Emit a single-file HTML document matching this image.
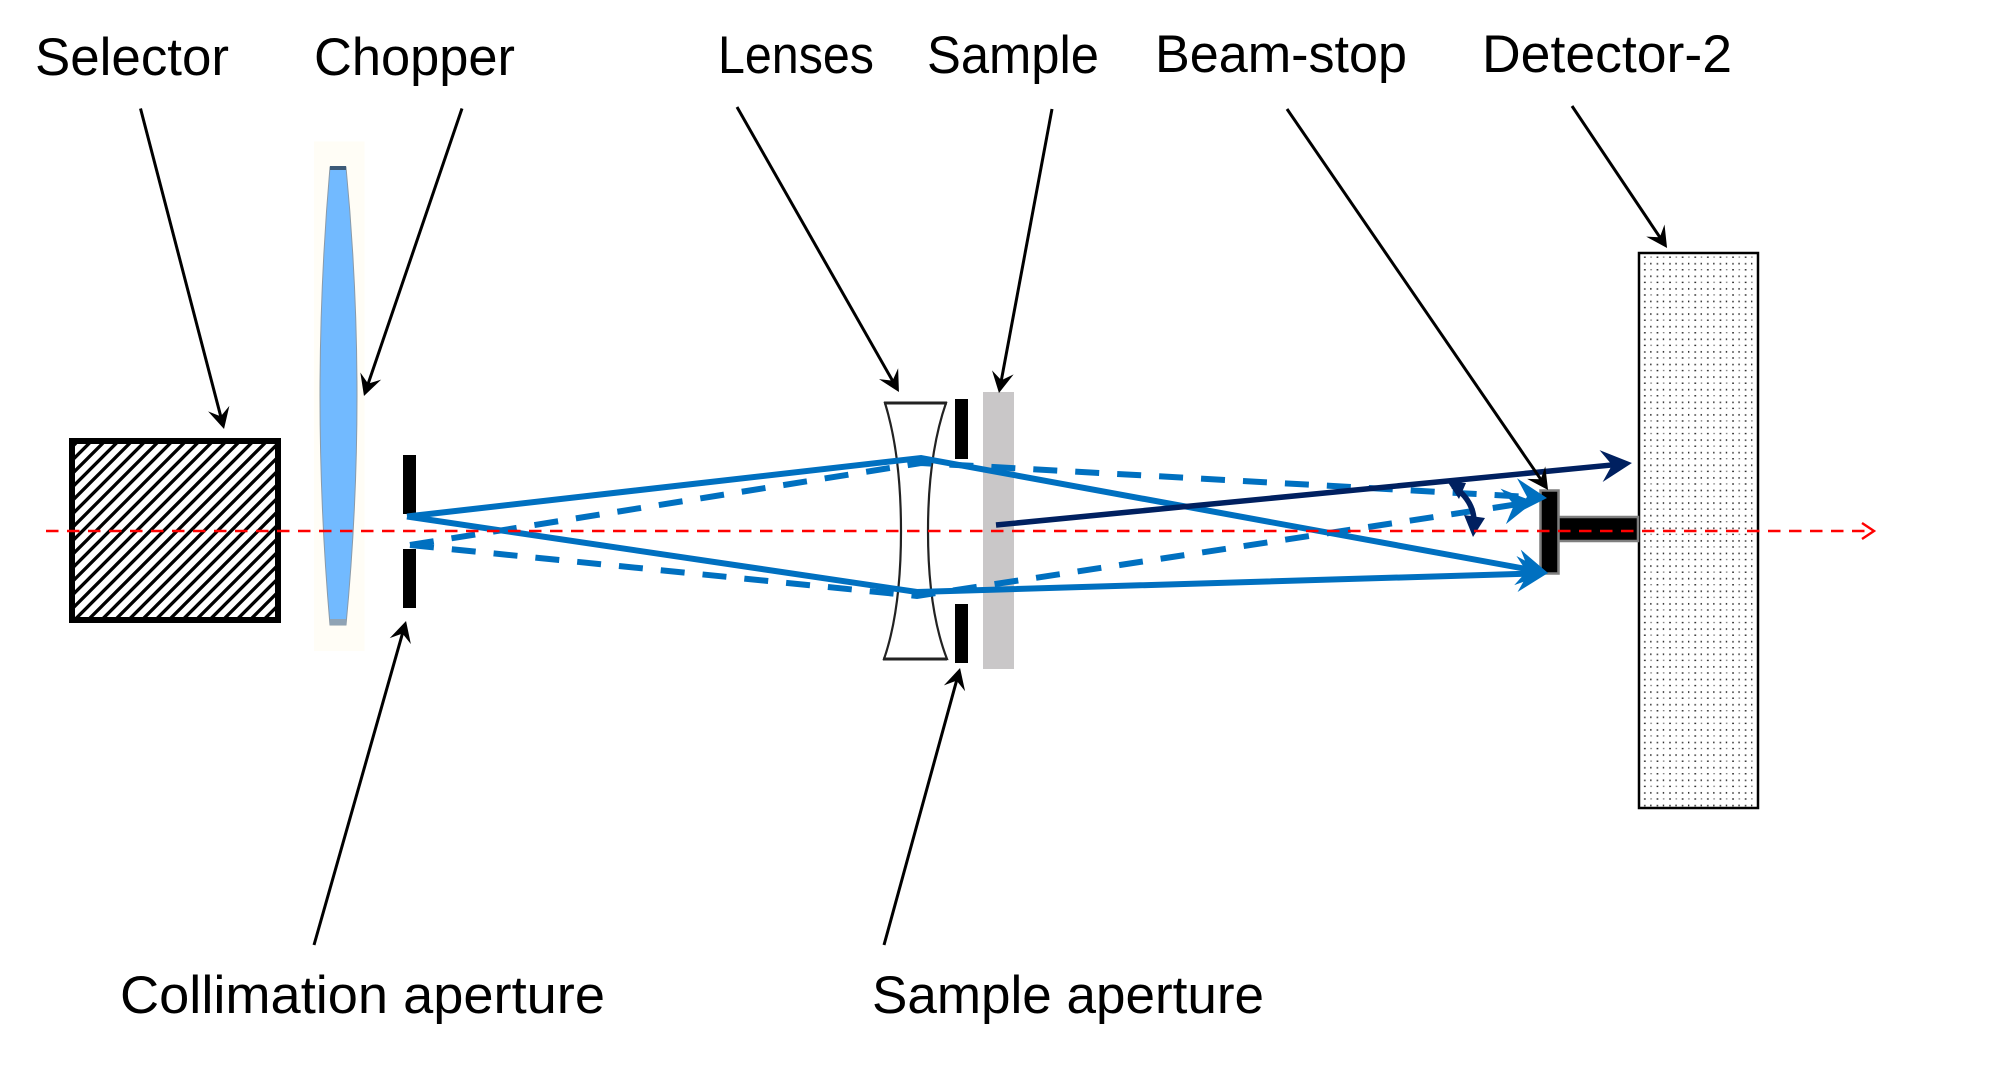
<!DOCTYPE html>
<html lang="en">
<head>
<meta charset="utf-8">
<title>Optics diagram</title>
<style>
html,body{margin:0;padding:0;background:#fff;width:1989px;height:1065px;overflow:hidden}
svg{display:block}
text{font-family:"Liberation Sans",sans-serif;font-size:53px;fill:#000}
</style>
</head>
<body>
<svg xmlns="http://www.w3.org/2000/svg" width="1989" height="1065" viewBox="0 0 1989 1065">
<defs>
<pattern id="hatch" width="13.5" height="13.5" patternUnits="userSpaceOnUse" patternTransform="translate(75 444)">
<path d="M-3.4 3.4L3.4 -3.4M-3.4 16.9L16.9 -3.4M10.1 16.9L16.9 10.1" stroke="#000" stroke-width="3.3" fill="none"/>
</pattern>
<pattern id="dots" width="12.6" height="12.6" patternUnits="userSpaceOnUse" patternTransform="translate(1640 255)">
<rect x="4" y="1.5" width="1.7" height="1.4" fill="#222"/>
<rect x="10.2" y="7.8" width="1.3" height="1.7" fill="#222"/>
<rect x="4" y="8" width="1.6" height="1.6" fill="#444"/>
<rect x="10.4" y="1.5" width="1.4" height="1.2" fill="#666"/>
</pattern>
<marker id="mk" markerUnits="userSpaceOnUse" markerWidth="60" markerHeight="60" refX="0" refY="0" orient="auto" overflow="visible">
<path d="M10 0L-11 -11L-3 0L-11 11Z" fill="#000"/>
</marker>
<marker id="mb" markerUnits="userSpaceOnUse" markerWidth="80" markerHeight="80" refX="0" refY="0" orient="auto" overflow="visible">
<path d="M12 0L-19 -18L-8 0L-19 18Z" fill="#0070c0"/>
</marker>
<marker id="mn" markerUnits="userSpaceOnUse" markerWidth="80" markerHeight="80" refX="0" refY="0" orient="auto" overflow="visible">
<path d="M12 0L-19 -16L-8 0L-19 16Z" fill="#002060"/>
</marker>
</defs>

<text x="35" y="75" textLength="194" lengthAdjust="spacingAndGlyphs">Selector</text>
<text x="314" y="75" textLength="201" lengthAdjust="spacingAndGlyphs">Chopper</text>
<text x="718" y="73" textLength="156" lengthAdjust="spacingAndGlyphs">Lenses</text>
<text x="927" y="73" textLength="172" lengthAdjust="spacingAndGlyphs">Sample</text>
<text x="1155" y="72" textLength="252" lengthAdjust="spacingAndGlyphs">Beam-stop</text>
<text x="1482" y="72" textLength="250" lengthAdjust="spacingAndGlyphs">Detector-2</text>
<text x="120" y="1013" textLength="485" lengthAdjust="spacingAndGlyphs">Collimation aperture</text>
<text x="872" y="1013" textLength="392" lengthAdjust="spacingAndGlyphs">Sample aperture</text>

<rect x="72" y="441" width="206" height="179" fill="#fff"/>
<rect x="72" y="441" width="206" height="179" fill="url(#hatch)" stroke="#000" stroke-width="6"/>

<rect x="314" y="141.5" width="50.5" height="509.5" fill="#fffdf6"/>
<path d="M330 167Q310 396 330 625L346 625Q368 396 346 167Z" fill="#72baff" stroke="#8a9aa8" stroke-width="1"/>
<rect x="330" y="166" width="16" height="4" fill="#3c5a78"/>
<rect x="330" y="619" width="16" height="6" fill="#8fa3b5"/>

<rect x="403" y="455" width="13" height="59" fill="#000"/>
<rect x="403" y="549" width="13" height="59" fill="#000"/>

<path d="M885 403Q901 455 901 531Q901 610 884 659L947 659Q928 610 928 531Q928 455 946 403Z" fill="#fff" stroke="#222" stroke-width="2.2"/>
<line x1="884" y1="403" x2="947" y2="403" stroke="#222" stroke-width="3"/>
<line x1="883" y1="659" x2="947" y2="659" stroke="#222" stroke-width="3"/>

<rect x="955" y="399" width="13" height="60" fill="#000"/>
<rect x="955" y="604" width="13" height="59" fill="#000"/>
<rect x="983" y="392" width="31" height="277" fill="#c9c7c8"/>

<rect x="1639" y="253" width="119" height="555" fill="#fff"/>
<rect x="1639" y="253" width="119" height="555" fill="url(#dots)" stroke="#000" stroke-width="2.5"/>

<rect x="1558" y="517" width="80" height="24" fill="#000" stroke="#7f7f7f" stroke-width="2.5"/>
<rect x="1540.5" y="490.5" width="18" height="83" fill="#000" stroke="#7f7f7f" stroke-width="2.5"/>

<g fill="none" stroke="#0070c0" stroke-width="6">
<path d="M410 545L921 463L1535 497.3" stroke-dasharray="24 18" marker-end="url(#mb)"/>
<path d="M410 545L917 596L1522 503.5" stroke-dasharray="24 18" marker-end="url(#mb)"/>
<path d="M407 516.5L921 458L1536.2 570.8" marker-end="url(#mb)"/>
<path d="M407 516.5L917 592L1536 573.4" marker-end="url(#mb)"/>
</g>

<line x1="996" y1="525" x2="1620" y2="464.2" stroke="#002060" stroke-width="5.5" marker-end="url(#mn)"/>
<path d="M1453 486Q1473 500 1474 520" fill="none" stroke="#002060" stroke-width="5.5"/>
<polygon points="1464,515 1485,518 1473,537" fill="#002060"/>
<polygon points="1447,481 1466,483 1459,499" fill="#002060"/>

<g stroke="#000" stroke-width="3" fill="none">
<line x1="140.5" y1="108.5" x2="221.5" y2="419.3" marker-end="url(#mk)"/>
<line x1="462" y1="108.5" x2="367.2" y2="386.5" marker-end="url(#mk)"/>
<line x1="314" y1="945" x2="403.3" y2="630.6" marker-end="url(#mk)"/>
<line x1="737" y1="107" x2="894" y2="383.3" marker-end="url(#mk)"/>
<line x1="1052" y1="109" x2="1000.8" y2="383.2" marker-end="url(#mk)"/>
<line x1="1287" y1="109" x2="1542.4" y2="481.7" marker-end="url(#mk)"/>
<line x1="1572" y1="106" x2="1661.5" y2="239.7" marker-end="url(#mk)"/>
<line x1="884" y1="945" x2="957.4" y2="677.7" marker-end="url(#mk)"/>
</g>

<line x1="46" y1="531" x2="1872" y2="531" stroke="#ff0000" stroke-width="2.6" stroke-dasharray="12.5 8.5"/>
<path d="M1862 523L1874 531L1862 539" fill="none" stroke="#ff0000" stroke-width="2.4"/>
</svg>
</body>
</html>
